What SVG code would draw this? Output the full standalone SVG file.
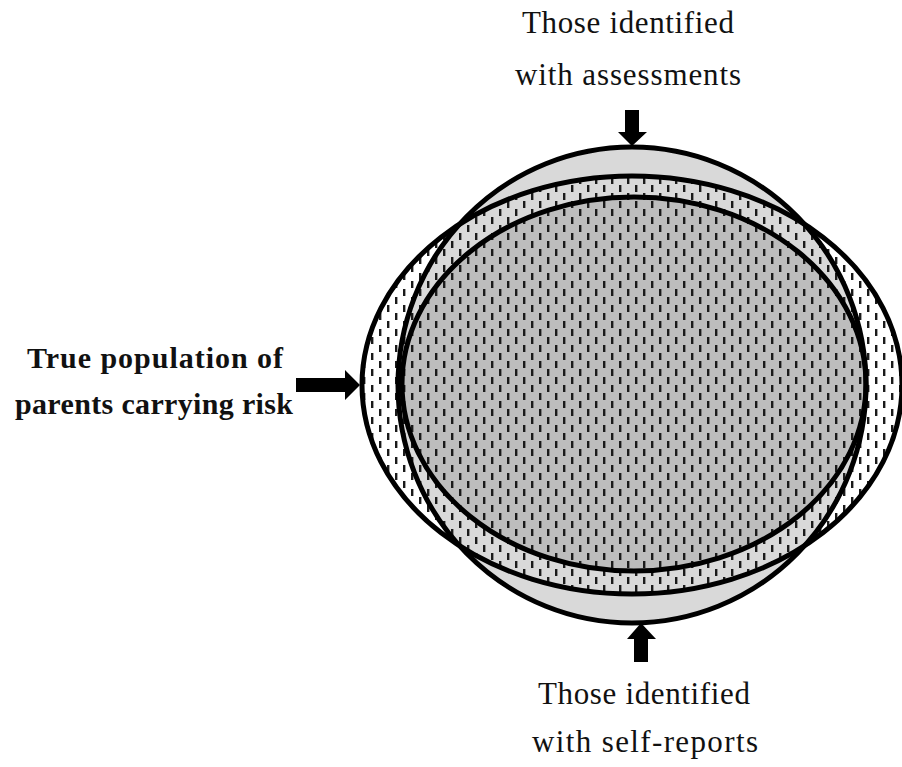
<svg xmlns="http://www.w3.org/2000/svg" width="902" height="767" viewBox="0 0 902 767">
  <defs>
    <!-- short vertical dashes, staggered -->
    <pattern id="dashes" width="16" height="16" patternUnits="userSpaceOnUse">
      <rect x="3" y="1" width="2.4" height="7" fill="#1a1a1a"/>
      <rect x="11" y="9" width="2.4" height="7" fill="#1a1a1a"/>
    </pattern>
    <style>
      .label { font-family: "Liberation Serif", "DejaVu Serif", serif; font-size: 31px; fill: #111; }
      .bold { font-weight: bold; font-size: 30px; }
      .outline { fill: none; stroke: #000; stroke-width: 5; }
      .arrow { fill: #000; }
    </style>
  </defs>
  <rect width="902" height="767" fill="#fff"/>

  <!-- fills -->
  <g id="fills">
    <ellipse cx="632" cy="385" rx="234" ry="238" fill="#d9d9d9"/>
    <ellipse cx="634" cy="384" rx="232" ry="187" fill="#bdbdbd"/>
    <ellipse cx="632" cy="385" rx="270" ry="209" fill="url(#dashes)"/>
  </g>

  <g id="assessments">
    <ellipse class="outline" cx="632" cy="385" rx="234" ry="238"/>
  </g>
  <g id="true-population">
    <ellipse class="outline" cx="632" cy="385" rx="270" ry="209"/>
  </g>
  <g id="self-reports">
    <ellipse class="outline" cx="634" cy="384" rx="232" ry="187"/>
  </g>

  <g id="connectors">
    <!-- down arrow onto the assessments outline -->
    <polygon class="arrow" points="625,110 639,110 639,132 647,132 632,146 618,132 625,132"/>
    <!-- up arrow onto the self-reports side -->
    <polygon class="arrow" points="634,662 648,662 648,639 656,639 641,623 627,639 634,639"/>
    <!-- right arrow onto the population outline -->
    <polygon class="arrow" points="296,378 345,378 345,370 360,385 345,400 345,392 296,392"/>
  </g>

  <g id="label-assessments">
    <text class="label" x="628" y="33" text-anchor="middle" textLength="212">Those identified</text>
    <text class="label" x="628" y="85" text-anchor="middle" textLength="226">with assessments</text>
  </g>
  <g id="label-population">
    <text class="label bold" x="155" y="368" text-anchor="middle" textLength="256">True population of</text>
    <text class="label bold" x="154" y="414" text-anchor="middle" textLength="278">parents carrying risk</text>
  </g>
  <g id="label-self-reports">
    <text class="label" x="644" y="704" text-anchor="middle" textLength="212">Those identified</text>
    <text class="label" x="645" y="752" text-anchor="middle" textLength="226">with self-reports</text>
  </g>
</svg>
